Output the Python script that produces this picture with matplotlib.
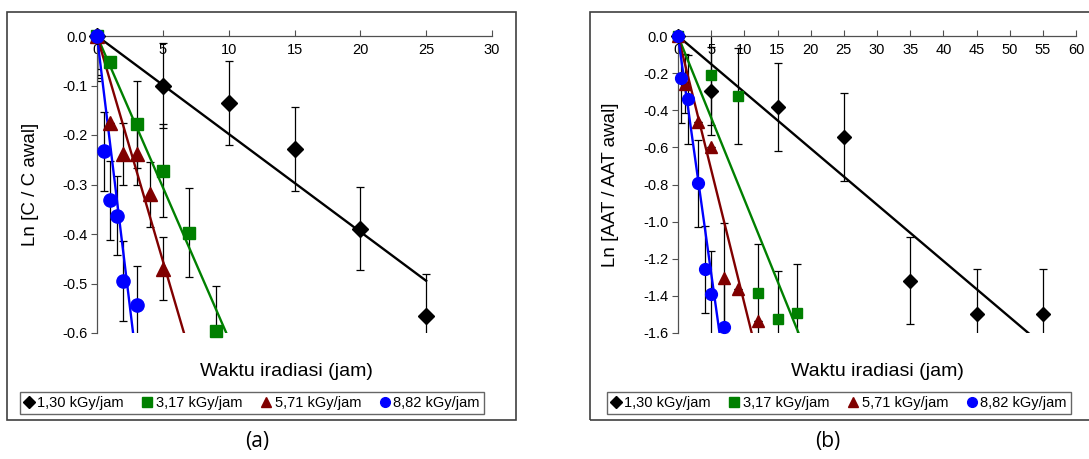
import numpy as np
import matplotlib
matplotlib.use('Agg')
from matplotlib import pyplot as plt
from matplotlib.lines import Line2D
from matplotlib.patches import Rectangle
from matplotlib.ticker import FuncFormatter

plt.rcParams['font.family'] = ['Liberation Sans', 'DejaVu Sans']
plt.rcParams['axes.unicode_minus'] = False

# data panel (a): Ln[C / C awal]
a_x_130 = [0, 5, 10, 15, 20, 25]
a_y_130 = [0, -0.100, -0.135, -0.228, -0.389, -0.566]
a_e_130 = [0.085, 0.085, 0.085, 0.085, 0.083, 0.085]
a_x_317 = [0, 1, 3, 5, 7, 9]
a_y_317 = [0, -0.052, -0.178, -0.272, -0.397, -0.595]
a_e_317 = [0.09, 0.0, 0.088, 0.094, 0.09, 0.09]
a_x_571 = [0, 1, 2, 3, 4, 5]
a_y_571 = [0, -0.175, -0.238, -0.238, -0.320, -0.470]
a_e_571 = [0.066, 0.0, 0.062, 0.062, 0.065, 0.063]
a_x_882 = [0, 0.5, 1, 1.5, 2, 3]
a_y_882 = [0, -0.233, -0.332, -0.363, -0.495, -0.543]
a_e_882 = [0.079, 0.08, 0.08, 0.08, 0.08, 0.078]

# data panel (b): Ln[AAT / AAT awal]
b_x_130 = [0, 5, 15, 25, 35, 45, 55]
b_y_130 = [0, -0.296, -0.385, -0.543, -1.319, -1.496, -1.496]
b_e_130 = [0, 0.235, 0.237, 0.237, 0.235, 0.24, 0.24]
b_x_317 = [0, 5, 9, 12, 15, 18]
b_y_317 = [0, -0.211, -0.324, -1.385, -1.525, -1.493]
b_e_317 = [0, 0.27, 0.26, 0.263, 0.26, 0.264]
b_x_571 = [0, 1, 3, 5, 7, 9, 12]
b_y_571 = [0, -0.256, -0.462, -0.597, -1.305, -1.364, -1.538]
b_e_571 = [0, 0.16, 0, 0, 0.3, 0, 0]
b_x_882 = [0, 0.5, 1.5, 3, 4, 5, 7]
b_y_882 = [0, -0.226, -0.342, -0.794, -1.256, -1.390, -1.565]
b_e_882 = [0, 0.24, 0.24, 0.236, 0.235, 0.23, 0.24]

labels = ['1,30 kGy/jam', '3,17 kGy/jam', '5,71 kGy/jam', '8,82 kGy/jam']
colors = ['black', '#008000', '#800000', '#0000ff']
markers = ['D', 's', '^', 'o']

W, H = 1089, 459
fig = plt.figure(figsize=(W / 100, H / 100), dpi=100)


def px(x0, y0, x1, y1):
  # pixel box -> figure fraction [left, bottom, width, height]
  return [x0 / W, 1 - y1 / H, (x1 - x0) / W, (y1 - y0) / H]


def panel(box, series, xmax, xstep, ymin, ystep, line_end, ylabel, msize):
  ax = fig.add_axes(box)
  for i, (x, y, e) in enumerate(series):
    x = np.array(x); y = np.array(y)
    ax.errorbar(x, y, yerr=e, fmt='none', ecolor='black', elinewidth=0.9,
                capsize=3, capthick=0.9, zorder=2)
    # garis tren lewat titik nol
    k = np.sum(x * y) / np.sum(x * x)
    xe = line_end[i]
    ax.plot([0, xe], [0, k * xe], color=colors[i], lw=1.7, zorder=3)
  for i, (x, y, e) in enumerate(series):
    ax.plot(x, y, ls='none', marker=markers[i], color=colors[i],
            markersize=msize[i], zorder=4, clip_on=False)
  ax.set_xlim(0, xmax)
  ax.set_ylim(ymin, 0)
  ax.set_xticks(np.arange(0, xmax + 0.1, xstep))
  ax.set_yticks(np.arange(ymin, 0.001, ystep))
  ax.yaxis.set_major_formatter(FuncFormatter(lambda v, p: '%.1f' % (round(v, 1) + 0.0)))
  ax.spines['top'].set_visible(False)
  ax.spines['right'].set_visible(False)
  ax.spines['bottom'].set_position(('data', 0))
  for s in ('bottom', 'left'):
    ax.spines[s].set_color('#505050')
    ax.spines[s].set_linewidth(0.9)
  ax.tick_params(axis='x', direction='in', length=4, pad=5, labelsize=10.5,
                 color='#505050')
  ax.tick_params(axis='y', direction='out', length=4, pad=3, labelsize=10.5,
                 color='#505050')
  ax.set_ylabel(ylabel, fontsize=13.5)
  ax.yaxis.set_label_coords(-0.147, 0.5)
  ax.set_xlabel('Waktu iradiasi (jam)', fontsize=14)
  ax.xaxis.set_label_coords(0.48 if xmax == 30 else 0.5, -0.1)
  ax.patch.set_alpha(0)
  return ax


handles = [Line2D([], [], ls='none', marker=markers[i], color=colors[i],
                  markersize=7 if i else 6) for i in range(4)]
leg_kw = dict(ncol=4, loc='center', frameon=True, fancybox=False,
              edgecolor='#404040', fontsize=10.5, handlelength=0.6,
              handletextpad=0.3, columnspacing=1.3, borderpad=0.3)

# panel (a)
fig.patches.append(Rectangle((7 / W, 1 - 420 / H), 509 / W, 408 / H,
                             transform=fig.transFigure, fill=False,
                             ec='#404040', lw=1.2))
panel(px(97, 36, 492, 333),
      [(a_x_130, a_y_130, a_e_130), (a_x_317, a_y_317, a_e_317),
       (a_x_571, a_y_571, a_e_571), (a_x_882, a_y_882, a_e_882)],
      30, 5, -0.6, 0.1, [25, 12, 12, 12], 'Ln [C / C awal]', [8.5, 8.5, 9.5, 9.5])
fig.legend(handles, labels, bbox_to_anchor=(252 / W, 1 - 403 / H), **leg_kw)
fig.text(257 / W, 1 - 441 / H, '(a)', ha='center', va='center',
         fontsize=15, family=['Open Sans', 'DejaVu Sans'])

# panel (b)
fig.patches.append(Rectangle((590 / W, 1 - 420 / H), 510 / W, 408 / H,
                             transform=fig.transFigure, fill=False,
                             ec='#404040', lw=1.2))
panel(px(678, 36, 1076, 333),
      [(b_x_130, b_y_130, b_e_130), (b_x_317, b_y_317, b_e_317),
       (b_x_571, b_y_571, b_e_571), (b_x_882, b_y_882, b_e_882)],
      60, 5, -1.6, 0.2, [60, 30, 30, 30], 'Ln [AAT / AAT awal]', [7, 7.5, 8.5, 8.5])
fig.legend(handles, labels, bbox_to_anchor=(839 / W, 1 - 403 / H), **leg_kw)
fig.text(828 / W, 1 - 441 / H, '(b)', ha='center', va='center',
         fontsize=15, family=['Open Sans', 'DejaVu Sans'])

plt.savefig('out.png', dpi=100)
